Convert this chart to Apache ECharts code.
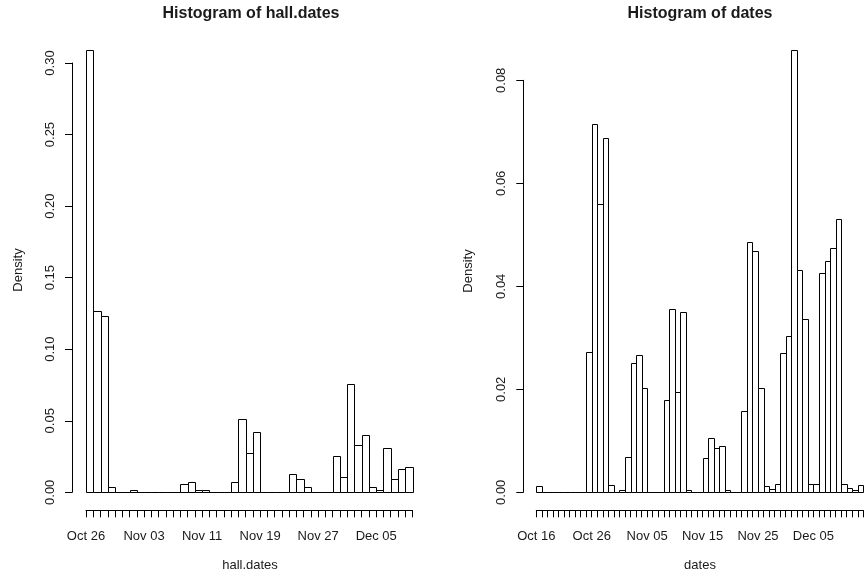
<!DOCTYPE html>
<html>
<head>
    <meta charset="utf-8">
    <script src="https://cdn.jsdelivr.net/npm/echarts@6/dist/echarts.min.js"></script>
    <style>
        html, body { margin: 0; padding: 0; background: #fff; }
    </style>
</head>
<body>
<div id="main" style="width: 864px;height:581px;"></div>
<script>
    // left histogram: hall.dates, one bin per day starting Oct 26
    var hallDensity = [
        0.309, 0.127, 0.123, 0.0035, 0, 0, 0.0018, 0, 0, 0,
        0, 0, 0, 0.0056, 0.0072, 0.0018, 0.0018, 0, 0, 0,
        0.0072, 0.0509, 0.0272, 0.042, 0, 0, 0, 0, 0.0126, 0.0091,
        0.0035, 0, 0, 0, 0.0251, 0.0109, 0.076, 0.0328, 0.0402, 0.0035,
        0.0018, 0.0311, 0.0091, 0.016, 0.0179
    ];
    var hallTickLabels = ['Oct 26', 'Nov 03', 'Nov 11', 'Nov 19', 'Nov 27', 'Dec 05'];
    var hallLabelStep = 8;

    // right histogram: dates, one bin per day starting Oct 16
    var datesDensity = [
        0.0012, 0, 0, 0, 0, 0, 0, 0, 0, 0.0272,
        0.0716, 0.0559, 0.0688, 0.0015, 0, 0.0005, 0.0068, 0.0252, 0.0267, 0.0202,
        0, 0, 0, 0.0179, 0.0356, 0.0194, 0.035, 0.0004, 0, 0,
        0.0066, 0.0105, 0.0086, 0.009, 0.0004, 0, 0, 0.0158, 0.0486, 0.0469,
        0.0202, 0.0012, 0.0006, 0.0016, 0.0271, 0.0304, 0.0859, 0.0431, 0.0337, 0.0016,
        0.0016, 0.0426, 0.0449, 0.0474, 0.0531, 0.0016, 0.0009, 0.0005, 0.0015
    ];
    var datesTickLabels = ['Oct 16', 'Oct 26', 'Nov 05', 'Nov 15', 'Nov 25', 'Dec 05'];
    var datesLabelStep = 10;

    var FONT = '"Liberation Sans", Arial, Helvetica, sans-serif';
    var INK = '#1a1a1a';

    var myChart = echarts.init(document.getElementById('main'));

    function renderBin(params, api) {
        var i = api.value(0), v = api.value(1);
        var p0 = api.coord([i, 0]);
        var p1 = api.coord([i + 1, v]);
        var x0 = Math.round(p0[0]) + 0.5, x1 = Math.round(p1[0]) + 0.5;
        var yb = Math.round(p0[1]) + 0.5, yt = Math.round(p1[1]) + 0.5;
        return {
            type: 'rect',
            shape: { x: x0, y: yt, width: x1 - x0, height: yb - yt },
            style: { fill: '#fff', stroke: '#000', lineWidth: 1 }
        };
    }

    function xAxisFor(idx, n, labels, step) {
        return {
            type: 'value', gridIndex: idx, min: 0, max: n, interval: 1,
            offset: 18,
            axisLine: { onZero: false, lineStyle: { color: '#000', width: 1 } },
            axisTick: { length: 7, lineStyle: { color: '#000' } },
            splitLine: { show: false },
            axisLabel: {
                margin: 20, fontSize: 13, fontFamily: FONT, color: INK,
                formatter: function (v) {
                    return v % step === 0 && labels[v / step] ? labels[v / step] : '';
                }
            }
        };
    }

    function yAxisFor(idx, max, interval, offset) {
        return {
            type: 'value', gridIndex: idx, min: 0, max: max, interval: interval,
            offset: offset,
            axisLine: { show: true, onZero: false, lineStyle: { color: '#000', width: 1 } },
            axisTick: { show: true, length: 7, lineStyle: { color: '#000' } },
            splitLine: { show: false },
            axisLabel: {
                rotate: 90, margin: 15, fontSize: 13, fontFamily: FONT, color: INK,
                formatter: function (v) { return v.toFixed(2); }
            }
        };
    }

    function textEl(str, x, y, size, bold, rot) {
        return {
            type: 'text', x: x, y: y, rotation: rot || 0,
            style: {
                text: str, fill: INK, align: 'center', verticalAlign: 'middle',
                font: (bold ? 'bold ' : '') + size + 'px ' + FONT
            }
        };
    }

    var option = {
        animation: false,
        backgroundColor: '#fff',
        grid: [
            { left: 86, top: 63, width: 326.5, height: 429.3, outerBoundsMode: 'none' },
            { left: 536.3, top: 80.3, width: 327, height: 412, outerBoundsMode: 'none' }
        ],
        xAxis: [
            xAxisFor(0, hallDensity.length, hallTickLabels, hallLabelStep),
            xAxisFor(1, datesDensity.length, datesTickLabels, datesLabelStep)
        ],
        yAxis: [
            yAxisFor(0, 0.30, 0.05, 14),
            yAxisFor(1, 0.08, 0.02, 13)
        ],
        graphic: [
            textEl('Histogram of hall.dates', 251, 14, 16, true),
            textEl('Histogram of dates', 700, 14, 16, true),
            textEl('hall.dates', 250, 565, 13, false),
            textEl('dates', 700, 565, 13, false),
            textEl('Density', 18, 270, 13, false, Math.PI / 2),
            textEl('Density', 468, 271, 13, false, Math.PI / 2)
        ],
        series: [
            {
                type: 'custom', xAxisIndex: 0, yAxisIndex: 0, clip: false,
                renderItem: renderBin,
                encode: { x: 0, y: 1 },
                data: hallDensity.map(function (v, i) { return [i, v]; })
            },
            {
                type: 'custom', xAxisIndex: 1, yAxisIndex: 1, clip: false,
                renderItem: renderBin,
                encode: { x: 0, y: 1 },
                data: datesDensity.map(function (v, i) { return [i, v]; })
            }
        ]
    };
    myChart.setOption(option);
</script>
</body>
</html>
